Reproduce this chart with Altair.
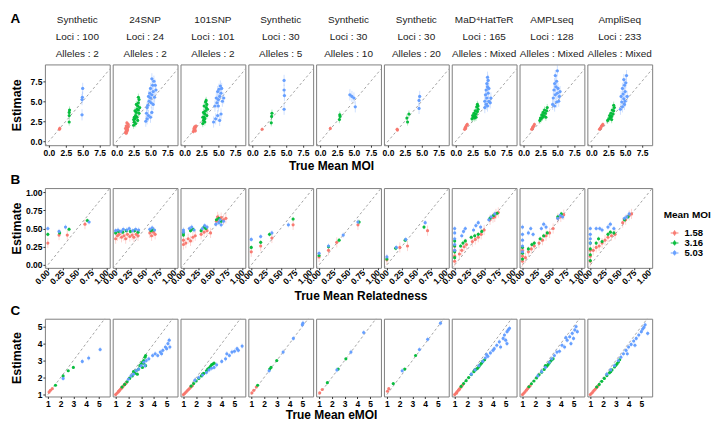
import altair as alt
import pandas as pd

GROUPS = ["1.58", "3.16", "5.03"]
COLORS = ["#F8766D", "#00BA38", "#619CFF"]
HEADERS = [
    ["Synthetic", "Loci : 100", "Alleles : 2"],
    ["24SNP", "Loci : 24", "Alleles : 2"],
    ["101SNP", "Loci : 101", "Alleles : 2"],
    ["Synthetic", "Loci : 30", "Alleles : 5"],
    ["Synthetic", "Loci : 30", "Alleles : 10"],
    ["Synthetic", "Loci : 30", "Alleles : 20"],
    ["MaD⁴HatTeR", "Loci : 165", "Alleles : Mixed"],
    ["AMPLseq", "Loci : 128", "Alleles : Mixed"],
    ["AmpliSeq", "Loci : 233", "Alleles : Mixed"],
]
LETTERS = ["A", "B", "C"]
X_TITLES = ["True Mean MOI", "True Mean Relatedness", "True Mean eMOI"]
X_DOMAINS = [[-0.6, 9.0], [-0.05, 1.05], [0.77, 5.85]]
Y_DOMAINS = [[-0.5, 9.6], [-0.04, 1.055], [0.89, 5.46]]
TICKS = [[0, 2.5, 5, 7.5], [0, 0.25, 0.5, 0.75, 1.0], [1, 2, 3, 4, 5]]
FORMATS = [".1f", ".2f", "d"]
# half-widths of the error bars (y, x) per row and MOI group
ERR_Y = [[0.25, 0.45, 0.7], [0.07, 0.03, 0.035], [0.03, 0.06, 0.15]]
ERR_X = [[0.1, 0.12, 0.25], [0.015, 0.02, 0.025], [0.02, 0.03, 0.06]]

# ---------------- Row A: MOI ----------------
A_PTS = {
    "1.58": [
        [(1.55, 1.5), (1.6, 1.6)],
        [(1.3, 1.1), (1.4, 1.3), (1.5, 1.5), (1.6, 1.7), (1.4, 1.9), (1.7, 2.1), (1.5, 1.2), (1.6, 1.4), (1.3, 1.6), (1.7, 1.8), (1.5, 2.3), (1.4, 1.0)],
        [(1.3, 1.2), (1.4, 1.4), (1.5, 1.5), (1.6, 1.7), (1.7, 1.9), (1.5, 1.8), (1.4, 1.6), (1.6, 1.3)],
        [(1.45, 1.5)],
        [(1.5, 1.6)],
        [(1.35, 1.5), (1.4, 1.4)],
        [(1.3, 1.5), (1.4, 1.7), (1.5, 1.8), (1.6, 2.0), (1.7, 2.1), (1.45, 1.6)],
        [(1.2, 1.5), (1.3, 1.6), (1.4, 1.8), (1.5, 1.9), (1.6, 2.1), (1.35, 1.7)],
        [(1.2, 1.5), (1.3, 1.6), (1.4, 1.7), (1.5, 1.9), (1.6, 2.0), (1.7, 2.1)],
    ],
    "3.16": [
        [(3.0, 2.4), (3.0, 3.2), (3.0, 3.6), (3.05, 3.9)],
        [(2.5, 2.0), (2.6, 2.4), (2.7, 2.8), (2.8, 3.2), (2.9, 3.6), (3.0, 4.0), (3.1, 4.4), (3.2, 4.8), (3.3, 5.2), (3.2, 5.5), (2.6, 3.0), (2.8, 2.2), (3.0, 3.0), (3.3, 3.5), (3.1, 2.6), (2.7, 3.8), (3.4, 4.2), (2.9, 4.6), (3.2, 3.9), (2.5, 2.7)],
        [(2.7, 2.2), (2.8, 2.6), (2.9, 3.0), (3.0, 3.4), (3.1, 3.8), (3.2, 4.2), (3.3, 4.6), (3.2, 5.1), (2.8, 3.6), (3.0, 2.4), (3.3, 3.2), (2.9, 4.4), (3.1, 4.9), (3.4, 4.0), (2.7, 3.0), (3.0, 2.8)],
        [(2.8, 2.3), (2.85, 3.1), (2.9, 3.5)],
        [(2.85, 2.7), (2.9, 3.3), (2.95, 3.1)],
        [(2.8, 2.9), (3.1, 3.4), (2.9, 2.4)],
        [(2.4, 2.8), (2.6, 3.0), (2.8, 3.2), (3.0, 3.4), (3.2, 3.7), (3.3, 4.0), (3.1, 4.3), (3.2, 4.6), (2.7, 3.5), (2.9, 3.8), (2.5, 3.2), (3.0, 3.0), (2.8, 2.9), (3.3, 4.4)],
        [(2.4, 2.6), (2.6, 2.8), (2.8, 3.0), (3.0, 3.2), (3.2, 3.5), (3.4, 3.8), (3.5, 4.2), (2.9, 3.6), (3.1, 3.9), (2.7, 3.3), (3.3, 3.0), (2.5, 2.9)],
        [(2.4, 2.6), (2.6, 2.8), (2.8, 3.0), (3.0, 3.1), (3.2, 3.4), (3.3, 3.8), (3.4, 4.2), (3.3, 4.5), (2.9, 3.5), (3.1, 3.9), (2.7, 3.2), (3.0, 2.7)],
    ],
    "5.03": [
        [(4.9, 3.3), (4.9, 5.2), (4.95, 5.5), (5.0, 6.6)],
        [(4.3, 2.5), (4.5, 2.8), (4.7, 3.2), (4.4, 3.5), (5.0, 3.0), (5.2, 3.6), (4.6, 4.5), (4.8, 5.0), (5.0, 5.4), (5.2, 5.8), (5.4, 6.2), (5.0, 6.6), (5.3, 7.0), (5.5, 7.5), (4.9, 6.0), (5.6, 5.5), (5.1, 4.8), (5.8, 6.4), (4.7, 5.6), (5.2, 7.8), (5.4, 4.6), (4.5, 4.2), (5.7, 7.0)],
        [(4.3, 2.4), (4.6, 2.8), (4.9, 3.2), (5.2, 2.6), (5.4, 3.4), (4.5, 4.4), (4.8, 4.8), (5.0, 5.2), (5.2, 5.6), (5.4, 6.0), (5.1, 6.5), (5.3, 6.9), (4.7, 5.4), (5.6, 5.0), (5.0, 4.4), (5.8, 5.4), (4.9, 6.2), (5.5, 6.6)],
        [(4.7, 4.0), (4.75, 5.7), (4.7, 6.4), (4.7, 7.6)],
        [(4.4, 5.8), (4.7, 5.6), (5.0, 5.4), (5.2, 4.3)],
        [(4.7, 5.6), (4.6, 5.1), (4.6, 4.1)],
        [(4.3, 4.2), (4.5, 4.6), (4.7, 4.4), (4.9, 5.0), (5.1, 4.8), (4.6, 5.4), (4.4, 5.8), (4.8, 6.0), (4.5, 6.4), (4.7, 6.8), (4.6, 7.2), (4.8, 7.6), (4.7, 8.0), (4.9, 6.6), (5.2, 5.4), (4.3, 5.0)],
        [(4.3, 4.6), (4.6, 4.4), (4.9, 4.9), (5.2, 5.0), (4.4, 5.4), (4.7, 5.8), (5.0, 6.0), (5.3, 5.6), (4.5, 6.4), (4.8, 6.8), (5.1, 6.6), (4.6, 7.2), (4.9, 7.5), (4.7, 8.2), (5.0, 8.8), (5.4, 6.2)],
        [(4.3, 4.0), (4.6, 4.3), (4.9, 4.6), (4.5, 4.9), (4.8, 5.3), (4.4, 5.6), (4.7, 5.9), (5.0, 6.2), (4.6, 6.6), (4.9, 7.0), (5.1, 7.3), (4.8, 7.7), (5.2, 8.2), (5.0, 5.0), (5.3, 5.6)],
    ],
}

# ---------------- Row B: relatedness ----------------
B_PTS = {
    "1.58": [
        [(0.0, 0.30), (0.19, 0.41), (0.33, 0.41), (0.63, 0.56)],
        [(0.0, 0.36), (0.03, 0.40), (0.06, 0.42), (0.1, 0.38), (0.14, 0.40), (0.17, 0.36), (0.2, 0.42), (0.24, 0.39), (0.28, 0.41), (0.31, 0.38), (0.35, 0.42), (0.38, 0.40), (0.58, 0.44), (0.61, 0.40), (0.64, 0.45), (0.67, 0.42)],
        [(0.0, 0.28), (0.0, 0.34), (0.04, 0.30), (0.08, 0.36), (0.12, 0.33), (0.16, 0.38), (0.2, 0.40), (0.3, 0.42), (0.35, 0.45), (0.4, 0.47), (0.46, 0.44), (0.56, 0.6), (0.6, 0.63), (0.64, 0.65), (0.68, 0.62), (0.72, 0.64), (0.58, 0.66)],
        [(0.0, 0.18), (0.16, 0.26), (0.35, 0.37), (0.71, 0.55)],
        [(0.0, 0.11), (0.16, 0.20), (0.30, 0.31), (0.66, 0.55)],
        [(0.0, 0.07), (0.22, 0.24), (0.35, 0.26), (0.69, 0.47)],
        [(0.0, 0.05), (0.0, 0.12), (0.0, 0.2), (0.0, 0.26), (0.08, 0.15), (0.12, 0.2), (0.16, 0.25), (0.2, 0.28), (0.3, 0.32), (0.35, 0.35), (0.4, 0.38), (0.45, 0.42), (0.5, 0.48), (0.6, 0.62), (0.65, 0.65), (0.7, 0.7), (0.74, 0.72), (0.68, 0.66)],
        [(0.0, 0.05), (0.0, 0.12), (0.0, 0.2), (0.05, 0.1), (0.1, 0.18), (0.15, 0.22), (0.2, 0.26), (0.28, 0.3), (0.34, 0.34), (0.4, 0.4), (0.46, 0.44), (0.52, 0.5), (0.6, 0.64), (0.65, 0.66), (0.7, 0.69)],
        [(0.0, 0.05), (0.0, 0.12), (0.0, 0.2), (0.05, 0.2), (0.1, 0.24), (0.15, 0.26), (0.2, 0.3), (0.25, 0.34), (0.3, 0.38), (0.36, 0.4), (0.42, 0.42), (0.55, 0.58), (0.6, 0.62), (0.66, 0.68), (0.7, 0.7)],
    ],
    "3.16": [
        [(0.0, 0.42), (0.2, 0.44), (0.36, 0.49), (0.67, 0.61)],
        [(0.0, 0.44), (0.05, 0.46), (0.12, 0.45), (0.18, 0.47), (0.25, 0.46), (0.32, 0.47), (0.38, 0.45), (0.6, 0.47), (0.64, 0.48)],
        [(0.0, 0.41), (0.0, 0.44), (0.12, 0.47), (0.16, 0.49), (0.3, 0.47), (0.35, 0.52), (0.38, 0.5), (0.56, 0.62), (0.6, 0.64), (0.64, 0.6)],
        [(0.0, 0.24), (0.16, 0.31), (0.31, 0.42), (0.71, 0.63)],
        [(0.0, 0.13), (0.16, 0.25), (0.34, 0.34), (0.68, 0.59)],
        [(0.0, 0.08), (0.15, 0.23), (0.31, 0.34), (0.63, 0.52)],
        [(0.0, 0.1), (0.0, 0.18), (0.0, 0.26), (0.0, 0.33), (0.1, 0.26), (0.14, 0.3), (0.18, 0.33), (0.28, 0.38), (0.34, 0.4), (0.4, 0.42), (0.46, 0.46), (0.6, 0.64), (0.66, 0.68), (0.72, 0.71)],
        [(0.0, 0.08), (0.0, 0.16), (0.0, 0.24), (0.1, 0.22), (0.16, 0.28), (0.2, 0.3), (0.3, 0.36), (0.36, 0.4), (0.42, 0.44), (0.6, 0.66), (0.66, 0.7)],
        [(0.0, 0.06), (0.0, 0.14), (0.0, 0.22), (0.0, 0.3), (0.1, 0.3), (0.14, 0.36), (0.2, 0.32), (0.3, 0.42), (0.34, 0.45), (0.4, 0.44), (0.58, 0.62), (0.64, 0.66)],
    ],
    "5.03": [
        [(0.0, 0.50), (0.19, 0.46), (0.30, 0.52), (0.70, 0.59)],
        [(0.0, 0.47), (0.04, 0.48), (0.09, 0.46), (0.13, 0.49), (0.19, 0.48), (0.23, 0.50), (0.29, 0.47), (0.34, 0.49), (0.39, 0.48), (0.58, 0.49), (0.62, 0.51), (0.66, 0.48)],
        [(0.0, 0.45), (0.0, 0.48), (0.1, 0.50), (0.14, 0.52), (0.18, 0.48), (0.32, 0.50), (0.36, 0.54), (0.4, 0.52), (0.55, 0.56), (0.6, 0.58), (0.64, 0.55), (0.68, 0.6), (0.62, 0.62)],
        [(0.0, 0.35), (0.16, 0.39), (0.35, 0.44), (0.63, 0.55)],
        [(0.0, 0.16), (0.16, 0.26), (0.41, 0.41), (0.66, 0.59)],
        [(0.0, 0.11), (0.16, 0.24), (0.32, 0.35), (0.65, 0.58)],
        [(0.0, 0.2), (0.0, 0.28), (0.0, 0.36), (0.0, 0.44), (0.0, 0.5), (0.12, 0.4), (0.15, 0.46), (0.18, 0.5), (0.32, 0.48), (0.36, 0.54), (0.4, 0.58), (0.44, 0.52), (0.58, 0.62), (0.62, 0.66), (0.68, 0.7)],
        [(0.0, 0.18), (0.0, 0.26), (0.0, 0.34), (0.0, 0.42), (0.0, 0.52), (0.1, 0.44), (0.14, 0.5), (0.18, 0.42), (0.32, 0.5), (0.36, 0.56), (0.4, 0.52), (0.6, 0.64), (0.64, 0.68), (0.68, 0.66)],
        [(0.0, 0.3), (0.0, 0.36), (0.0, 0.42), (0.0, 0.5), (0.1, 0.5), (0.16, 0.5), (0.2, 0.48), (0.3, 0.52), (0.34, 0.56), (0.4, 0.5), (0.58, 0.64), (0.62, 0.66), (0.66, 0.7)],
    ],
}

# ---------------- Row C: eMOI ----------------
C_PTS = {
    "1.58": [
        [(1.1, 1.15), (1.2, 1.25), (1.35, 1.35)],
        [(1.0, 1.0), (1.1, 1.08), (1.2, 1.16), (1.3, 1.25), (1.4, 1.33), (1.5, 1.42), (1.6, 1.5), (1.7, 1.58), (1.8, 1.65), (1.25, 1.2), (1.45, 1.38)],
        [(1.0, 1.0), (1.1, 1.07), (1.2, 1.15), (1.3, 1.22), (1.4, 1.3), (1.5, 1.38), (1.6, 1.46), (1.7, 1.52)],
        [(1.05, 1.1), (1.2, 1.25), (1.4, 1.45)],
        [(1.05, 1.1), (1.25, 1.3)],
        [(1.05, 1.2), (1.15, 1.35)],
        [(1.0, 1.0), (1.1, 1.08), (1.2, 1.18), (1.3, 1.26), (1.4, 1.36), (1.5, 1.45), (1.6, 1.55), (1.15, 1.1), (1.35, 1.3)],
        [(1.0, 1.0), (1.1, 1.08), (1.2, 1.17), (1.3, 1.26), (1.4, 1.35), (1.5, 1.44), (1.6, 1.52)],
        [(1.0, 1.0), (1.1, 1.08), (1.2, 1.16), (1.3, 1.25), (1.4, 1.33), (1.5, 1.42), (1.6, 1.5)],
    ],
    "3.16": [
        [(1.6, 1.55), (2.2, 2.1), (2.6, 2.4), (3.0, 2.6)],
        [(1.5, 1.45), (1.7, 1.6), (1.9, 1.75), (2.1, 1.95), (2.3, 2.1), (2.5, 2.25), (2.6, 2.4), (2.8, 2.5), (2.9, 2.7), (3.0, 2.8), (3.1, 2.9), (3.2, 3.0), (3.3, 3.2), (3.35, 2.7), (2.7, 2.2), (3.1, 2.6), (2.4, 2.35), (3.2, 2.85), (3.35, 3.3)],
        [(1.6, 1.5), (1.8, 1.65), (2.0, 1.8), (2.2, 1.95), (2.4, 2.1), (2.6, 2.25), (2.8, 2.4), (3.0, 2.55), (3.1, 2.65), (3.2, 2.75), (3.3, 2.8), (3.4, 2.85), (2.9, 2.5), (2.5, 2.2)],
        [(1.5, 1.55), (2.45, 2.5), (2.55, 2.6), (3.0, 3.0)],
        [(1.65, 1.7), (2.5, 2.5), (3.1, 3.1)],
        [(1.5, 1.65), (2.4, 2.5), (3.25, 3.3)],
        [(1.5, 1.48), (1.7, 1.65), (1.9, 1.82), (2.1, 2.0), (2.3, 2.18), (2.5, 2.35), (2.7, 2.5), (2.9, 2.65), (3.0, 2.75), (3.1, 2.85), (3.2, 2.95), (3.35, 3.05), (2.6, 2.45), (2.8, 2.55)],
        [(1.5, 1.46), (1.7, 1.64), (1.9, 1.8), (2.1, 1.98), (2.3, 2.16), (2.5, 2.32), (2.7, 2.48), (2.9, 2.66), (3.0, 2.76), (3.1, 2.86), (3.2, 2.96), (3.3, 3.06), (3.4, 3.1), (2.8, 2.7)],
        [(1.5, 1.45), (1.7, 1.6), (1.9, 1.78), (2.1, 1.95), (2.3, 2.12), (2.5, 2.28), (2.7, 2.45), (2.9, 2.62), (3.0, 2.72), (3.1, 2.82), (3.2, 2.92), (3.3, 3.05), (2.6, 2.35)],
    ],
    "5.03": [
        [(2.2, 1.95), (3.7, 2.95), (4.2, 3.15), (5.1, 3.65)],
        [(2.0, 1.9), (2.2, 2.1), (2.4, 2.2), (2.6, 2.4), (2.8, 2.5), (3.0, 2.7), (3.2, 2.9), (3.4, 3.0), (3.6, 3.1), (3.9, 3.3), (4.1, 3.4), (4.3, 3.3), (4.5, 3.5), (4.7, 3.6), (4.9, 3.8), (5.0, 3.7), (5.1, 4.0), (5.2, 4.2), (5.25, 3.8), (4.6, 3.4), (3.3, 2.7)],
        [(1.9, 1.85), (2.2, 2.0), (2.5, 2.15), (2.8, 2.3), (3.0, 2.45), (3.2, 2.55), (3.4, 2.6), (3.6, 2.75), (4.0, 2.95), (4.3, 3.1), (4.4, 3.4), (4.6, 3.3), (4.8, 3.5), (5.0, 3.55), (5.2, 3.7), (5.3, 3.6), (5.6, 3.85)],
        [(2.4, 2.4), (3.5, 3.5), (4.3, 4.3), (5.0, 5.1), (5.05, 5.2)],
        [(2.4, 2.45), (3.5, 3.5), (4.5, 4.65)],
        [(2.2, 2.4), (3.55, 3.65), (4.2, 4.25), (5.2, 5.2)],
        [(2.3, 2.2), (2.6, 2.45), (2.9, 2.7), (3.2, 2.95), (3.4, 3.15), (3.5, 3.35), (3.6, 3.25), (3.8, 3.45), (4.1, 3.7), (4.3, 3.9), (4.5, 4.1), (4.6, 3.8), (4.8, 4.3), (4.9, 4.5), (5.0, 4.2), (5.1, 4.7), (5.2, 4.8), (5.3, 4.9), (5.1, 4.0), (4.0, 3.6)],
        [(2.2, 2.1), (2.5, 2.35), (2.8, 2.6), (3.1, 2.9), (3.3, 3.1), (3.5, 3.3), (3.7, 3.5), (3.9, 3.55), (4.1, 3.9), (4.3, 3.8), (4.5, 4.2), (4.7, 4.4), (4.8, 4.0), (4.9, 4.6), (5.0, 4.3), (5.1, 4.8), (5.2, 5.0), (5.3, 4.7), (4.4, 4.35)],
        [(2.3, 2.2), (2.6, 2.45), (2.9, 2.7), (3.2, 3.0), (3.4, 3.2), (3.6, 3.4), (3.8, 3.6), (4.0, 3.8), (4.2, 3.95), (4.4, 4.15), (4.6, 4.3), (4.8, 4.5), (5.0, 4.7), (5.1, 4.85), (5.2, 4.95), (5.3, 5.1), (5.5, 4.6), (4.5, 3.9), (3.9, 3.4)],
    ],
}

ROWS = [A_PTS, B_PTS, C_PTS]

records = []
for r, pts in enumerate(ROWS):
    for gi, g in enumerate(GROUPS):
        for p, plist in enumerate(pts[g]):
            for (x, y) in plist:
                ey, ex = ERR_Y[r][gi], ERR_X[r][gi]
                records.append(dict(row=r, panel=p, group=g, x=x, y=y,
                                    ylo=y - ey, yhi=y + ey, xlo=x - ex, xhi=x + ex))
df = pd.DataFrame(records)

FONT = "Liberation Sans"
LEGEND_SYMBOL = ("M-1,-0.13H1V0.13H-1Z M-0.13,-0.7H0.13V0.7H-0.13Z "
                 "M-0.4,-0.4H0.4V0.4H-0.4Z")

PANEL_W = 65
PANEL_H = [81, 80, 78]
GAP = 3
COLOR_SCALE = alt.Scale(domain=GROUPS, range=COLORS)


def panel(r, p):
    d = df[(df.row == r) & (df.panel == p)]
    xd, yd = X_DOMAINS[r], Y_DOMAINS[r]
    xs = alt.Scale(domain=xd, nice=False, zero=False)
    ys = alt.Scale(domain=yd, nice=False, zero=False)
    if r == 1:
        xaxis = alt.Axis(values=TICKS[r], format=FORMATS[r], title=None, labelAngle=-45,
                         labelAlign="right", labelBaseline="middle", labelOverlap=False,
                         labelFlush=False, labelPadding=1)
    else:
        xaxis = alt.Axis(values=TICKS[r], format=FORMATS[r], title=None, labelOverlap=False,
                         labelFlush=False, labelPadding=1)
    if p == 0:
        yaxis = alt.Axis(values=TICKS[r], format=FORMATS[r], title="Estimate",
                         minExtent=18, maxExtent=18, titlePadding=3, labelFlush=False,
                         labelOverlap=False, labelPadding=1)
    else:
        yaxis = None
    sc = alt.Color("group:N", scale=COLOR_SCALE, legend=None)
    diag_df = pd.DataFrame({"lo": [min(xd[0], yd[0])], "hi": [max(xd[1], yd[1])]})
    diag = alt.Chart(diag_df).mark_rule(color="#8a8a8a", strokeDash=[2.5, 2.5],
                                         strokeWidth=0.8, clip=True).encode(
        x=alt.X("lo:Q", scale=xs, axis=xaxis), y=alt.Y("lo:Q", scale=ys, axis=yaxis),
        x2="hi:Q", y2="hi:Q")
    base = alt.Chart(d)
    vbar = base.mark_rule(opacity=0.3, strokeWidth=1, clip=True).encode(
        x=alt.X("x:Q", scale=xs, axis=xaxis), y=alt.Y("ylo:Q", scale=ys, axis=yaxis),
        y2="yhi:Q", color=sc)
    hbar = base.mark_rule(opacity=0.3, strokeWidth=1, clip=True).encode(
        x=alt.X("xlo:Q", scale=xs, axis=xaxis), x2="xhi:Q",
        y=alt.Y("y:Q", scale=ys, axis=yaxis), color=sc)
    pts = base.mark_circle(size=10, opacity=0.95, clip=True).encode(
        x=alt.X("x:Q", scale=xs, axis=xaxis), y=alt.Y("y:Q", scale=ys, axis=yaxis),
        color=sc)
    ch = alt.layer(diag, vbar, hbar, pts).properties(width=PANEL_W, height=PANEL_H[r])
    if r == 0:
        ch = ch.properties(title=alt.TitleParams(HEADERS[p], fontSize=10, fontWeight="normal",
                                                 color="#222", font=FONT, lineHeight=17.5,
                                                 offset=5, anchor="middle"))
    return ch


def legend_chart():
    ldf = pd.DataFrame({"group": GROUPS})
    ysc = alt.Scale(domain=GROUPS, range=[45, 65], padding=0)
    title = alt.Chart(ldf).transform_filter(alt.datum.group == GROUPS[0]).mark_text(
        text="Mean MOI", align="left", baseline="middle", fontSize=10, fontWeight="bold",
        font=FONT, color="#000", clip=True).encode(x=alt.value(8.5), y=alt.value(27))
    sym = alt.Chart(ldf).mark_point(shape=LEGEND_SYMBOL, filled=True, size=60,
                                    opacity=0.95).encode(
        x=alt.value(19.5), y=alt.Y("group:N", scale=ysc, axis=None),
        color=alt.Color("group:N", scale=COLOR_SCALE, legend=None))
    lab = alt.Chart(ldf).mark_text(align="left", baseline="middle", fontSize=9.5,
                                   fontWeight="bold", font=FONT, color="#000").encode(
        x=alt.value(29.5), y=alt.Y("group:N", scale=ysc, axis=None), text="group:N")
    return alt.layer(title, sym, lab).properties(
        width=56, height=PANEL_H[1], view=alt.ViewBackground(stroke="transparent"))


TITLE_OFFSETS = [4, 5, 2]
LETTER_OFFSETS = [-11, 1, 1]

rows = []
for r in range(3):
    items = [panel(r, p) for p in range(9)]
    if r == 1:
        items.append(legend_chart())
    h = alt.hconcat(*items, spacing=GAP, bounds="flush").properties(
        title=alt.TitleParams(X_TITLES[r], orient="bottom", anchor="middle", fontSize=12,
                              fontWeight="bold", color="#000", font=FONT,
                              offset=TITLE_OFFSETS[r]))
    w = alt.vconcat(h).properties(
        title=alt.TitleParams(LETTERS[r], anchor="start", fontSize=13.5, fontWeight="bold",
                              color="#000", font=FONT, offset=LETTER_OFFSETS[r]))
    rows.append(w)

chart = alt.vconcat(*rows, spacing=1).properties(
    padding={"left": 2, "top": 3, "right": 0, "bottom": 0}
).configure_view(
    stroke="#7f7f7f", strokeWidth=1
).configure_axis(
    grid=False, domain=False, tickColor="#333", tickSize=2, labelFont=FONT,
    labelFontSize=8.5, labelFontWeight="bold", labelColor="#000", titleFont=FONT,
    titleFontSize=12.5, titleFontWeight="bold", titleColor="#000"
)

chart.save("out.html", embed_options={"renderer": "svg", "actions": False})
